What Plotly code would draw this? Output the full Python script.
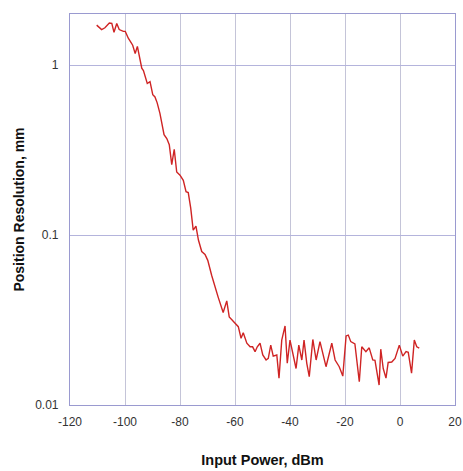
import plotly.graph_objects as go

input_power_dbm = [-110.3, -108.5, -107.3, -105.7, -104.8, -104.0, -103.0, -102.1, -100.6, -99.9,
                   -98.8, -97.9, -97.2, -96.7, -96.3, -95.5, -94.8, -93.9, -93.3, -92.4,
                   -91.9, -90.9, -89.9, -89.1, -88.3, -87.3, -86.7, -85.8, -84.8, -83.9,
                   -83.0, -82.1, -81.2, -80.0, -78.8, -77.8, -77.0, -76.1, -75.2, -74.2,
                   -73.3, -72.1, -70.9, -69.9, -68.5, -67.3, -66.1, -64.3, -63.0, -62.1,
                   -60.6, -58.8, -57.8, -57.0, -55.7, -54.5, -53.6, -52.7, -51.9, -50.9,
                   -49.9, -48.7, -47.9, -47.0, -46.1, -44.8, -44.0, -43.0, -41.8, -41.0,
                   -40.0, -39.0, -37.8, -36.8, -35.7, -34.9, -33.9, -33.0, -31.7, -30.5,
                   -29.1, -26.9, -24.8, -23.6, -22.1, -20.8, -19.6, -18.8, -17.9, -16.4,
                   -14.8, -13.9, -12.4, -11.2, -9.9, -9.1, -8.5, -7.6, -7.0, -6.1,
                   -5.1, -4.3, -3.0, -1.8, -0.25, 1.0, 2.2, 3.0, 4.2, 5.2,
                   6.1, 7.0]
resolution_mm = [1.72, 1.62, 1.66, 1.77, 1.76, 1.56, 1.76, 1.62, 1.58, 1.58,
                 1.44, 1.35, 1.31, 1.23, 1.17, 1.29, 1.13, 0.96, 0.93, 0.82,
                 0.78, 0.80, 0.67, 0.65, 0.60, 0.52, 0.47, 0.39, 0.37, 0.34,
                 0.26, 0.32, 0.235, 0.225, 0.21, 0.18, 0.178, 0.144, 0.107, 0.113,
                 0.0935, 0.080, 0.077, 0.071, 0.058, 0.049, 0.043, 0.035, 0.041, 0.033,
                 0.031, 0.0289, 0.0247, 0.0266, 0.0231, 0.022, 0.022, 0.0206, 0.022, 0.0231,
                 0.0197, 0.0184, 0.0188, 0.0225, 0.0194, 0.0197, 0.0144, 0.0241, 0.0292, 0.0176,
                 0.0241, 0.0201, 0.0164, 0.0225, 0.0184, 0.0241, 0.0176, 0.0147, 0.0243, 0.0184,
                 0.0236, 0.0168, 0.0231, 0.0184, 0.0168, 0.0148, 0.0255, 0.0258, 0.0236, 0.0229,
                 0.0137, 0.022, 0.0206, 0.0217, 0.0184, 0.0183, 0.0157, 0.0131, 0.0213, 0.0164,
                 0.0144, 0.0178, 0.0179, 0.0188, 0.0225, 0.0194, 0.0206, 0.0204, 0.0154, 0.0241,
                 0.022, 0.0216]

x_ticks = [-120, -100, -80, -60, -40, -20, 0, 20]
x_tick_labels = ["-120", "-100", "-80", "-60", "-40", "-20", "0", "20"]
y_ticks = [0.01, 0.1, 1]
y_tick_labels = ["0.01", "0.1", "1"]

fig = go.Figure()
fig.add_trace(go.Scatter(x=input_power_dbm, y=resolution_mm, mode="lines",
                         line=dict(color="#cf2424", width=1.4), showlegend=False,
                         hoverinfo="skip"))

font_family = "Liberation Sans, Arial, sans-serif"
fig.update_layout(
    width=463, height=471,
    margin=dict(l=70, r=8, t=14, b=66),
    paper_bgcolor="white", plot_bgcolor="white",
    font=dict(family=font_family, size=12, color="#333333"),
    xaxis=dict(range=[-120, 20], tickvals=x_ticks, ticktext=x_tick_labels,
               ticks="outside", ticklen=5, ticklabeloverflow="allow",
               tickcolor="rgba(0,0,0,0)", showgrid=True, gridcolor="#c4c4d8", gridwidth=1,
               showline=True, linecolor="#9a9ad0", linewidth=1.2, mirror=True,
               zeroline=False, automargin=False,
               tickfont=dict(size=12, color="#333333"),
               title=dict(text="<b>Input Power, dBm</b>", standoff=27,
                          font=dict(size=14.5, color="#111111"))),
    yaxis=dict(type="log", range=[-2, 0.301], tickvals=y_ticks, ticktext=y_tick_labels,
               ticks="outside", ticklen=8, tickcolor="rgba(0,0,0,0)",
               showgrid=True, gridcolor="#b4b4dc", gridwidth=1,
               showline=True, linecolor="#9a9ad0", linewidth=1.2, mirror=True,
               zeroline=False, automargin=False,
               tickfont=dict(size=12, color="#333333"),
               title=dict(text="<b>Position Resolution, mm</b>", standoff=7,
                          font=dict(size=14, color="#111111"))),
)

fig.write_html("out.html",
               config={"displayModeBar": False},
               post_script="document.body.style.margin='0';"
                           "document.documentElement.style.overflow='hidden';"
                           "document.body.style.overflow='hidden';")
